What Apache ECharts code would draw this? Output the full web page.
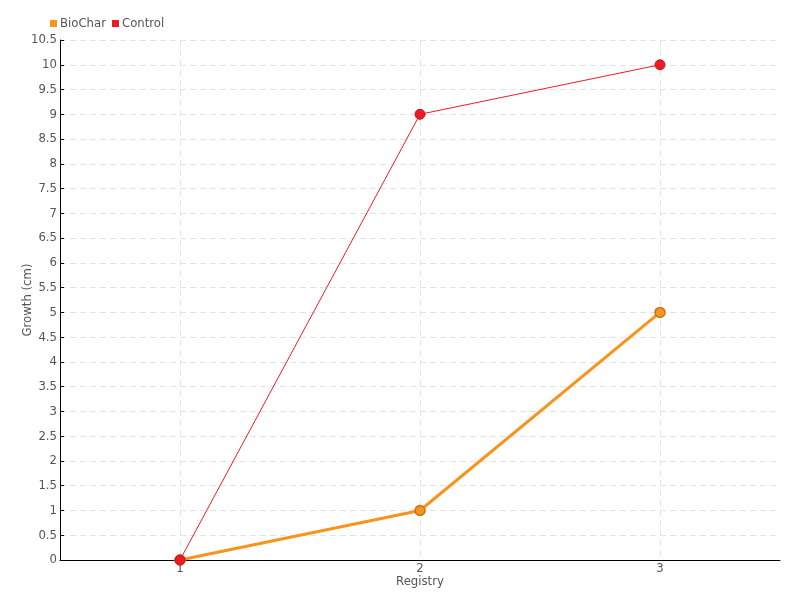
<!DOCTYPE html>
<html><head><meta charset="utf-8">
<script src="https://cdn.jsdelivr.net/npm/echarts@6/dist/echarts.min.js"></script>
<style>html,body{margin:0;padding:0;background:#fff}#c{width:800px;height:600px}</style>
</head><body><div id="c"></div>
<script>
const categories = ['1', '2', '3'];
const bioChar = [0, 1, 5];
const control = [0, 9, 10];
const FONT = "'DejaVu Sans Condensed', sans-serif";
const chart = echarts.init(document.getElementById('c'));
chart.setOption({
  animation: false,
  textStyle: {fontFamily: FONT},
  legend: {
    left: 45, top: 12, itemWidth: 7, itemHeight: 7, itemGap: 6,
    icon: 'rect', itemStyle: {borderWidth: 0},
    textStyle: {fontFamily: FONT, fontSize: 13, color: '#555', padding: [0, 0, 0, -2]},
    data: ['BioChar', 'Control']
  },
  grid: {left: 60, right: 20, top: 40, bottom: 40, containLabel: false, outerBoundsMode: 'none'},
  xAxis: {
    type: 'category', data: categories, boundaryGap: true,
    name: 'Registry', nameLocation: 'middle', nameGap: 15, nameMoveOverlap: false,
    nameTextStyle: {fontFamily: FONT, fontSize: 13, color: '#555'},
    axisLine: {lineStyle: {color: '#000'}},
    axisTick: {alignWithLabel: true, length: 5, lineStyle: {color: '#000'}},
    axisLabel: {fontFamily: FONT, fontSize: 13, color: '#555', margin: 2},
    splitLine: {show: true, alignWithLabel: true, lineStyle: {type: [6, 4], color: '#e3e3e3'}}
  },
  yAxis: {
    type: 'value', min: 0, max: 10.5, interval: 0.5,
    name: 'Growth (cm)', nameLocation: 'middle', nameGap: 26, nameMoveOverlap: false,
    nameTextStyle: {fontFamily: FONT, fontSize: 13, color: '#555'},
    axisLine: {show: true, lineStyle: {color: '#000'}},
    axisTick: {show: true, length: 4, inside: true, lineStyle: {color: '#000'}},
    axisLabel: {fontFamily: FONT, fontSize: 13, color: '#555', margin: 3},
    splitLine: {show: true, lineStyle: {type: [6, 4], color: '#e3e3e3'}}
  },
  series: [
    {
      name: 'BioChar', type: 'line', data: bioChar,
      symbol: 'circle', symbolSize: 10,
      lineStyle: {width: 3, color: '#f7941d'},
      itemStyle: {color: '#f7941d', borderColor: '#c8731a', borderWidth: 1.5},
      z: 2
    },
    {
      name: 'Control', type: 'line', data: control,
      symbol: 'circle', symbolSize: 10,
      lineStyle: {width: 1, color: '#ed1c24'},
      itemStyle: {color: '#ed1c24', borderColor: '#c4161c', borderWidth: 1},
      z: 3
    }
  ]
});
</script></body></html>
